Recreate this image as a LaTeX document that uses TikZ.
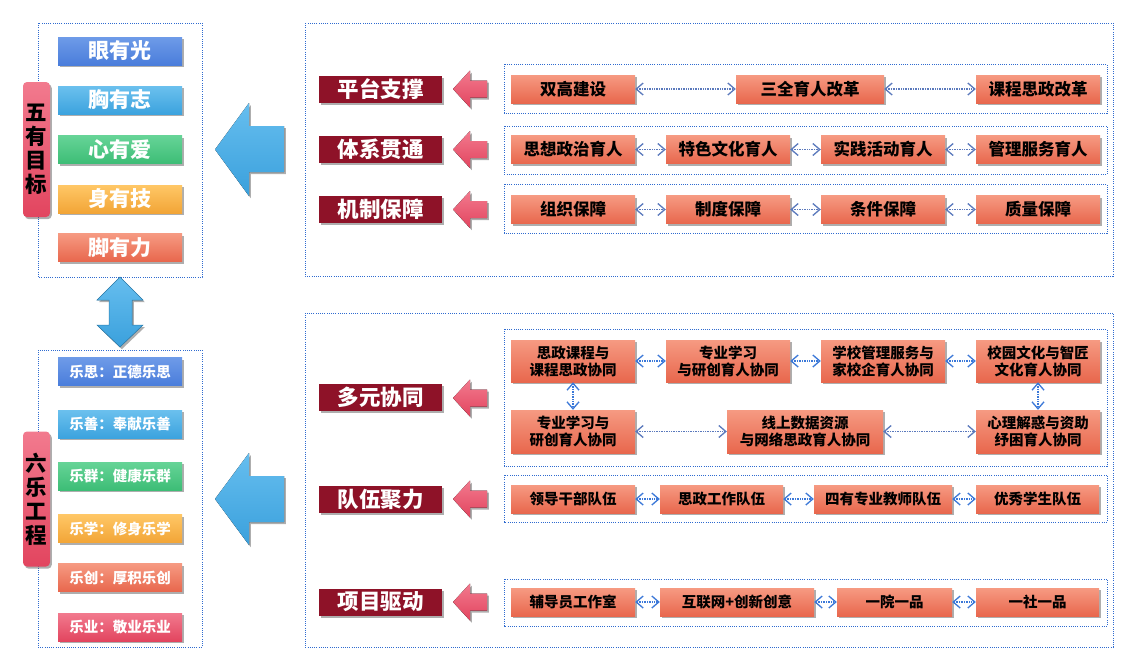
\documentclass[tikz,border=0pt]{standalone}
\usepackage{fontspec}
\setmainfont{Noto Sans CJK SC}
\usetikzlibrary{arrows.meta,shadows}
\definecolor{dotblue}{HTML}{2F6BD0}
\definecolor{catred}{HTML}{8E1228}
\definecolor{salT}{HTML}{F69A82}
\definecolor{salB}{HTML}{E8674D}
\definecolor{bluT}{HTML}{6E9BE8}
\definecolor{bluB}{HTML}{4A7DDB}
\definecolor{lbT}{HTML}{6BC0EE}
\definecolor{lbB}{HTML}{3CA3DE}
\definecolor{grT}{HTML}{66D497}
\definecolor{grB}{HTML}{3DBD76}
\definecolor{orT}{HTML}{FFC766}
\definecolor{orB}{HTML}{F2A537}
\definecolor{pkT}{HTML}{F27A8E}
\definecolor{pkB}{HTML}{E2455F}
\definecolor{arT}{HTML}{66BEEF}
\definecolor{arB}{HTML}{3AA0DC}
\definecolor{connA}{HTML}{5A79BC}
\definecolor{connB}{HTML}{3B78D8}
\tikzset{
  panel/.style={draw=dotblue, line width=0.9pt, dash pattern=on 0.9pt off 1.3pt},
  shad/.style={drop shadow={opacity=0.45, shadow xshift=1.8pt, shadow yshift=-2.2pt, fill=black!70}},
  btn/.style={shad, minimum width=124pt, minimum height=28pt, inner sep=0pt, text=white,
    font=\bfseries\fontsize{21}{21}\selectfont},
  sbtn/.style={btn, font=\bfseries\fontsize{14.5}{14.5}\selectfont},
  vlabel/.style={shad, rounded corners=4pt, top color=pkT, bottom color=pkB, minimum width=27pt,
    minimum height=135pt, inner sep=0pt, align=center, text=black,
    font=\bfseries\fontsize{21.5}{24}\selectfont},
  cat/.style={shad, fill=catred, minimum width=123pt, minimum height=27pt, inner sep=0pt,
    text=white, font=\bfseries\fontsize{21.5}{21.5}\selectfont},
  sbox/.style={shad, top color=salT, bottom color=salB, minimum height=28pt, inner sep=0pt,
    font=\bfseries\fontsize{16.5}{16.5}\selectfont},
  mbox/.style={sbox, align=center, font=\bfseries\fontsize{14.5}{17}\selectfont},
  tbox/.style={sbox, font=\bfseries\fontsize{14.5}{14.5}\selectfont},
  connA/.style={draw=connA, line width=1.6pt, dash pattern=on 0.8pt off 0.9pt,
    arrows={Straight Barb[length=7pt,width=12pt,line width=1.3pt]-Straight Barb[length=7pt,width=12pt,line width=1.3pt]}},
  connB/.style={connA, draw=connB},
  blockarrow/.style={top color=arT, bottom color=arB, shad},
  pinkarrow/.style={top color=pkT, bottom color=pkB, shad},
}
\begin{document}
\begin{tikzpicture}[x=1pt,y=-1pt]
\useasboundingbox[fill=white] (0,0) rectangle (1140,670);

% ---------------- left panels ----------------
\draw[panel] (38,23) rectangle (202,277);
\draw[panel] (38,350) rectangle (202,647);

\node[btn, top color=bluT, bottom color=bluB] (g1) at (120,51) {眼有光};
\node[btn, top color=lbT, bottom color=lbB] (g2) at (120,100) {胸有志};
\node[btn, top color=grT, bottom color=grB] (g3) at (120,149.5) {心有爱};
\node[btn, top color=orT, bottom color=orB] (g4) at (120,199) {身有技};
\node[btn, top color=salT, bottom color=salB] (g5) at (120,247.5) {脚有力};
\node[vlabel] (wy) at (36.5,149.5) {五\\有\\目\\标};

\node[sbtn, top color=bluT, bottom color=bluB] (h1) at (120,371.5) {乐思：正德乐思};
\node[sbtn, top color=lbT, bottom color=lbB] (h2) at (120,424) {乐善：奉献乐善};
\node[sbtn, top color=grT, bottom color=grB] (h3) at (120,476) {乐群：健康乐群};
\node[sbtn, top color=orT, bottom color=orB] (h4) at (120,528.5) {乐学：修身乐学};
\node[sbtn, top color=salT, bottom color=salB] (h5) at (120,577.5) {乐创：厚积乐创};
\node[sbtn, top color=pkT, bottom color=pkB] (h6) at (120,627) {乐业：敬业乐业};
\node[vlabel] (ll) at (36.5,499) {六\\乐\\工\\程};

% double vertical arrow
\fill[blockarrow, draw=arB!80!black, line width=0.5pt]
  (120,277) -- (143,300) -- (132,300) -- (132,325) -- (143,325) -- (120,347)
  -- (97,325) -- (109,325) -- (109,300) -- (97,300) -- cycle;

% big blue arrows
\fill[blockarrow] (215,149.5) -- (249,103) -- (249,126) -- (284,126) -- (284,172) -- (249,172) -- (249,196) -- cycle;
\fill[blockarrow] (215,499) -- (249,453) -- (249,476) -- (284,476) -- (284,522) -- (249,522) -- (249,545) -- cycle;

% ---------------- right panels ----------------
\draw[panel] (305,23) rectangle (1113,276);
\draw[panel] (305,313) rectangle (1113,647);

\draw[panel] (504,64) rectangle (1107,113);
\draw[panel] (504,126) rectangle (1107,174);
\draw[panel] (504,184) rectangle (1107,233);
\draw[panel] (504,329) rectangle (1107,466);
\draw[panel] (504,475) rectangle (1107,522);
\draw[panel] (504,579) rectangle (1107,626);

% category labels
\node[cat] (c1) at (380.5,89) {平台支撑};
\node[cat] (c2) at (380.5,149.5) {体系贯通};
\node[cat] (c3) at (380.5,209.5) {机制保障};
\node[cat] (c4) at (380.5,397.5) {多元协同};
\node[cat] (c5) at (380.5,499) {队伍聚力};
\node[cat] (c6) at (380.5,602) {项目驱动};

% pink arrows
\foreach \yy in {89,149.5,209.5,398,499,602}{
  \fill[pinkarrow] (453,\yy) -- (470,\yy-18.5) -- (470,\yy-8.5) -- (487,\yy-8.5)
    -- (487,\yy+8.5) -- (470,\yy+8.5) -- (470,\yy+18.5) -- cycle;
}

% row 1
\node[sbox, minimum width=124pt] (a1) at (573,89) {双高建设};
\node[sbox, minimum width=148pt] (a2) at (810,89) {三全育人改革};
\node[sbox, minimum width=124pt] (a3) at (1038,89) {课程思政改革};
\draw[connA] (a1.east) -- (a2.west);
\draw[connA] (a2.east) -- (a3.west);

% row 2
\node[sbox, minimum width=124pt] (b1) at (573,149.5) {思想政治育人};
\node[sbox, minimum width=124pt] (b2) at (728,149.5) {特色文化育人};
\node[sbox, minimum width=124pt] (b3) at (883,149.5) {实践活动育人};
\node[sbox, minimum width=124pt] (b4) at (1038,149.5) {管理服务育人};
\draw[connA] (b1.east) -- (b2.west);
\draw[connA] (b2.east) -- (b3.west);
\draw[connA] (b3.east) -- (b4.west);

% row 3
\node[sbox, minimum width=124pt] (d1) at (573,209.5) {组织保障};
\node[sbox, minimum width=124pt] (d2) at (728,209.5) {制度保障};
\node[sbox, minimum width=124pt] (d3) at (883,209.5) {条件保障};
\node[sbox, minimum width=124pt] (d4) at (1038,209.5) {质量保障};
\draw[connA] (d1.east) -- (d2.west);
\draw[connA] (d2.east) -- (d3.west);
\draw[connA] (d3.east) -- (d4.west);

% multi collaboration
\node[mbox, minimum width=124pt, minimum height=42pt] (m1) at (573,361) {思政课程与\\课程思政协同};
\node[mbox, minimum width=124pt, minimum height=42pt] (m2) at (728,361) {专业学习\\与研创育人协同};
\node[mbox, minimum width=124pt, minimum height=42pt] (m3) at (883,361) {学校管理服务与\\家校企育人协同};
\node[mbox, minimum width=124pt, minimum height=42pt] (m4) at (1038,361) {校园文化与智匠\\文化育人协同};
\node[mbox, minimum width=124pt, minimum height=43pt] (n1) at (573,431.5) {专业学习与\\研创育人协同};
\node[mbox, minimum width=156pt, minimum height=43pt] (n2) at (805,431.5) {线上数据资源\\与网络思政育人协同};
\node[mbox, minimum width=124pt, minimum height=43pt] (n3) at (1038,431.5) {心理解惑与资助\\纾困育人协同};
\draw[connB] (m1.east) -- (m2.west);
\draw[connB] (m2.east) -- (m3.west);
\draw[connB] (m3.east) -- (m4.west);
\draw[connA] (n1.east) -- (n2.west);
\draw[connA] (n2.east) -- (n3.west);
\draw[connB] (m1.south) -- (n1.north);
\draw[connB] (m4.south) -- (n3.north);

% team row
\node[tbox, minimum width=124pt] (t1) at (573,499) {领导干部队伍};
\node[tbox, minimum width=123pt] (t2) at (721.5,499) {思政工作队伍};
\node[tbox, minimum width=138pt] (t3) at (883,499) {四有专业教师队伍};
\node[tbox, minimum width=123pt] (t4) at (1037.5,499) {优秀学生队伍};
\draw[connB] (t1.east) -- (t2.west);
\draw[connB] (t2.east) -- (t3.west);
\draw[connB] (t3.east) -- (t4.west);

% project row
\node[tbox, minimum width=124pt] (p1) at (573,602) {辅导员工作室};
\node[tbox, minimum width=154pt] (p2) at (737,602) {互联网+创新创意};
\node[tbox, minimum width=115pt] (p3) at (894.5,602) {一院一品};
\node[tbox, minimum width=123pt] (p4) at (1037.5,602) {一社一品};
\draw[connB] (p1.east) -- (p2.west);
\draw[connB] (p2.east) -- (p3.west);
\draw[connB] (p3.east) -- (p4.west);
\end{tikzpicture}
\end{document}
